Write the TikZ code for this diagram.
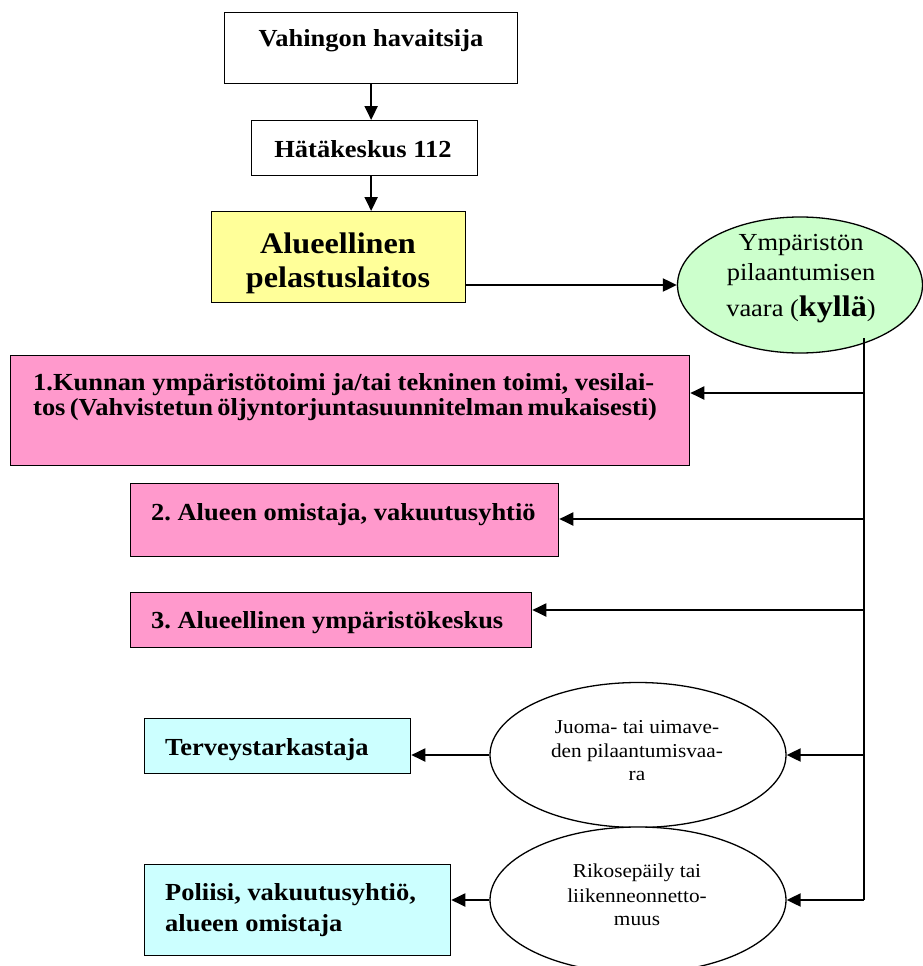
\documentclass[tikz,border=0pt]{standalone}
\usepackage{fontspec}
\setmainfont{Liberation Serif}[FakeStretch=1.08]
\usetikzlibrary{arrows.meta,shapes.geometric}
\definecolor{ylw}{HTML}{FFFF99}
\definecolor{grn}{HTML}{CCFFCC}
\definecolor{pnk}{HTML}{FF99CC}
\definecolor{cyn}{HTML}{CCFFFF}
\frenchspacing
\begin{document}
\begin{tikzpicture}[x=1pt,y=-1pt,
  bx/.style={draw, line width=1.3pt, inner sep=0pt, anchor=north west},
  el/.style={draw, ellipse, line width=1.3pt, inner sep=0pt},
  tb/.style={inner sep=0pt, anchor=base, font=\fontsize{24.5}{26}\selectfont\bfseries},
  tbl/.style={inner sep=0pt, anchor=base west, font=\fontsize{24.5}{26}\selectfont\bfseries},
  tbig/.style={inner sep=0pt, anchor=base, font=\fontsize{29.8}{33}\selectfont\bfseries},
  tr/.style={inner sep=0pt, anchor=base, font=\fontsize{24.5}{26}\selectfont},
  ts/.style={inner sep=0pt, anchor=base, font=\fontsize{19.7}{22}\selectfont},
  arr/.style={line width=2pt, -{Triangle[length=14pt,width=13pt]}},
  ln/.style={line width=2pt}]
\useasboundingbox (0,0) rectangle (923,966);

% boxes
\node (vah) [bx, fill=white, minimum width=293pt, minimum height=71pt] at (224,12) {};
\node (hat) [bx, fill=white, minimum width=226pt, minimum height=55pt] at (251,120) {};
\node (pel) [bx, fill=ylw, minimum width=254pt, minimum height=91pt] at (211,211) {};
\node (b1) [bx, fill=pnk, minimum width=679pt, minimum height=110pt] at (10,355) {};
\node (b2) [bx, fill=pnk, minimum width=428pt, minimum height=73pt] at (130,483) {};
\node (b3) [bx, fill=pnk, minimum width=401pt, minimum height=55pt] at (130,592) {};
\node (ter) [bx, fill=cyn, minimum width=266pt, minimum height=55pt] at (144,718) {};
\node (pol) [bx, fill=cyn, minimum width=306pt, minimum height=91pt] at (144,864) {};

% ellipses
\node (gr) [el, fill=grn, minimum width=245pt, minimum height=136pt] at (800,285) {};
\node (e1) [el, fill=white, minimum width=296pt, minimum height=145pt] at (638,755) {};
\node (e2) [el, fill=white, minimum width=296pt, minimum height=146pt] at (638,900) {};

% texts
\node (tvah) [tb] at (371,47) {Vahingon havaitsija};
\node (that) [tb] at (363,157) {Hätäkeskus 112};
\node (tpel1) [tbig] at (338,253) {Alueellinen};
\node (tpel2) [tbig] at (338,287) {pelastuslaitos};
\node (tgr1) [tr] at (801,250) {Ympäristön};
\node (tgr2) [tr] at (801,280) {pilaantumisen};
\node (tgr3) [tr] at (801,316) {vaara (\textbf{\fontsize{29.8}{33}\selectfont kyllä})};
\node (tb1a) [tbl] at (33,390) {\makebox[621pt][s]{1.Kunnan ympäristötoimi ja/tai tekninen toimi, vesilai-}};
\node (tb1b) [tbl] at (33,415) {\makebox[621pt][s]{tos (Vahvistetun öljyntorjuntasuunnitelman mukaisesti)}};
\node (tb2) [tbl] at (151,520) {2. Alueen omistaja, vakuutusyhtiö};
\node (tb3) [tbl] at (151,628) {3. Alueellinen ympäristökeskus};
\node (tter) [tbl] at (165,755) {Terveystarkastaja};
\node (tpol1) [tbl] at (165,900) {Poliisi, vakuutusyhtiö,};
\node (tpol2) [tbl] at (165,931) {alueen omistaja};
\node (te1a) [ts] at (637,733) {Juoma- tai uimave-};
\node (te1b) [ts] at (637,757) {den pilaantumisvaa-};
\node (te1c) [ts] at (637,780) {ra};
\node (te2a) [ts] at (637,877) {Rikosepäily tai};
\node (te2b) [ts] at (637,902) {liikenneonnetto-};
\node (te2c) [ts] at (637,925) {muus};

% trunk coordinates
\coordinate (tt) at (864,338);
\coordinate (j1) at (864,393);
\coordinate (j2) at (864,519);
\coordinate (j3) at (864,610);
\coordinate (j4) at (864,755);
\coordinate (j5) at (864,900);

% connectors
\draw[arr] (vah.south) -- (vah.south |- hat.north);
\draw[arr] (vah.south |- hat.south) -- (vah.south |- pel.north);
\draw[arr] (pel.east |- gr.west) -- (gr.west);
\draw[ln] (tt) -- (j5);
\draw[arr] (j1) -- (j1 -| b1.east);
\draw[arr] (j2) -- (j2 -| b2.east);
\draw[arr] (j3) -- (j3 -| b3.east);
\draw[arr] (j4) -- (e1.east);
\draw[arr] (j5) -- (e2.east);
\draw[arr] (e1.west) -- (e1.west -| ter.east);
\draw[arr] (e2.west) -- (e2.west -| pol.east);
\end{tikzpicture}
\end{document}
